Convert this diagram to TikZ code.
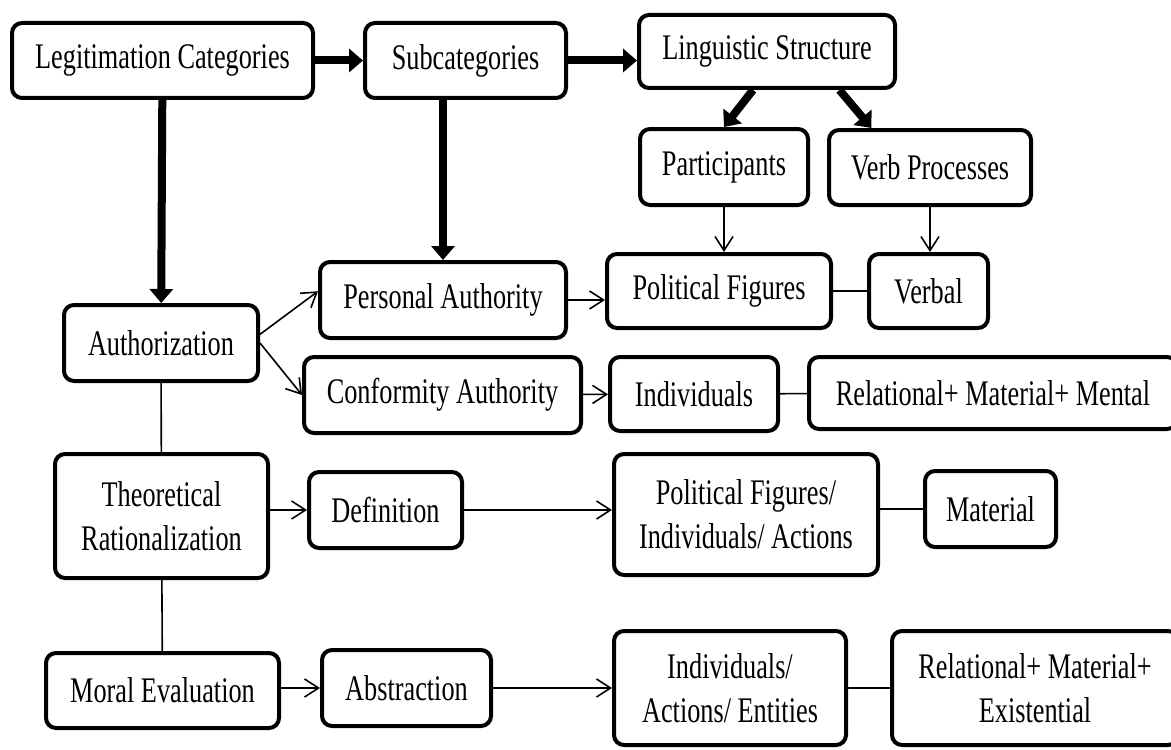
\documentclass[tikz,border=0pt]{standalone}
\usepackage{fontspec}
\setmainfont{Liberation Serif}[FakeStretch=0.73]
\usetikzlibrary{arrows.meta}

\begin{document}
\begin{tikzpicture}[x=0.5pt, y=-0.5pt,
        box/.style={draw, line width=2pt, rounded corners=5pt, align=center,
          inner sep=0pt, font=\fontsize{18}{22}\selectfont},
        bigarrow/.style={line width=4pt, -{Triangle[length=7pt, width=11.5pt]}},
        thinarrow/.style={line width=0.8pt, -{Straight Barb[length=7pt, width=9pt]}},
        link/.style={line width=0.8pt}]
        \useasboundingbox (0,0) rectangle (1171,749);
        % top row
        \node[box, minimum width=150.5pt, minimum height=37.5pt] (legcat) at (162.5,60.5) {Legitimation Categories};
        \node[box, minimum width=100.5pt, minimum height=37.5pt] (subcat) at (465.5,60.5) {Subcategories};
        \node[box, minimum width=128pt, minimum height=36.5pt] (lingstr) at (767,51.5) {Linguistic Structure};
        \node[box, minimum width=84pt, minimum height=38pt] (partic) at (724,167) {Participants};
        \node[box, minimum width=101pt, minimum height=37.5pt] (verbproc) at (930,167.5) {Verb Processes};
        % authorization
        \node[box, minimum width=97pt, minimum height=38pt] (author) at (161,343) {Authorization};
        \node[box, minimum width=123pt, minimum height=38pt] (persauth) at (443,300) {Personal Authority};
        \node[box, minimum width=112pt, minimum height=37pt] (polfig) at (719,291) {Political Figures};
        \node[box, minimum width=59.5pt, minimum height=37pt] (verbal) at (928.5,291) {Verbal};
        \node[box, minimum width=138.5pt, minimum height=38pt] (confauth) at (442.5,395) {Conformity Authority};
        \node[box, minimum width=84pt, minimum height=37pt] (indiv) at (694,394) {Individuals};
        \node[box, minimum width=184pt, minimum height=36pt] (relment) at (993,393) {Relational+ Material+ Mental};
        % rationalization
        \node[box, minimum width=106.5pt, minimum height=62pt] (theor) at (161.5,516) {Theoretical\\Rationalization};
        \node[box, minimum width=76.5pt, minimum height=38pt] (defn) at (385.5,510) {Definition};
        \node[box, minimum width=132pt, minimum height=60.5pt] (polfigind) at (746,514.5) {Political Figures/\\Individuals/ Actions};
        \node[box, minimum width=65.5pt, minimum height=38pt] (material) at (990.5,509) {Material};
        % moral evaluation
        \node[box, minimum width=116.5pt, minimum height=37.5pt] (moral) at (162.5,690.5) {Moral Evaluation};
        \node[box, minimum width=84.5pt, minimum height=38pt] (abstr) at (406.5,688) {Abstraction};
        \node[box, minimum width=116pt, minimum height=57pt] (indactent) at (730,688) {Individuals/\\Actions/ Entities};
        \node[box, minimum width=143pt, minimum height=57pt] (relexist) at (1035,688) {Relational+ Material+\\Existential};
        % thick arrows
        \draw[bigarrow] (legcat) -- (subcat);
        \draw[bigarrow] (subcat.east) -- (subcat.east -| lingstr.west);
        \draw[bigarrow] (lingstr.250) -- (partic.north);
        \draw[bigarrow] (lingstr.-28) -- (verbproc.146);
        \draw[bigarrow] (legcat) -- (author);
        \draw[bigarrow] (subcat.south -| persauth.north) -- (persauth.north);
        % thin arrows and links
        \draw[thinarrow] (author.5) -- (persauth.176);
        \draw[thinarrow] (author.east) -- (confauth.west);
        \draw[thinarrow] (persauth.east) -- (persauth.east -| polfig.west);
        \draw[thinarrow] (partic.south) -- (partic.south |- polfig.north);
        \draw[thinarrow] (verbproc.south) -- (verbproc.south |- verbal.north);
        \draw[link] (polfig) -- (verbal);
        \draw[thinarrow] (confauth) -- (indiv);
        \draw[link] (indiv) -- (relment);
        \draw[link] (author) -- (theor);
        \draw[link] (theor) -- (moral);
        \draw[thinarrow] (theor.east |- defn) -- (defn);
        \draw[thinarrow] (defn) -- (defn -| polfigind.west);
        \draw[link] (polfigind.east |- material) -- (material);
        \draw[thinarrow] (moral.east |- abstr) -- (abstr);
        \draw[thinarrow] (abstr) -- (indactent);
        \draw[link] (indactent) -- (relexist);
\end{tikzpicture}
\end{document}
